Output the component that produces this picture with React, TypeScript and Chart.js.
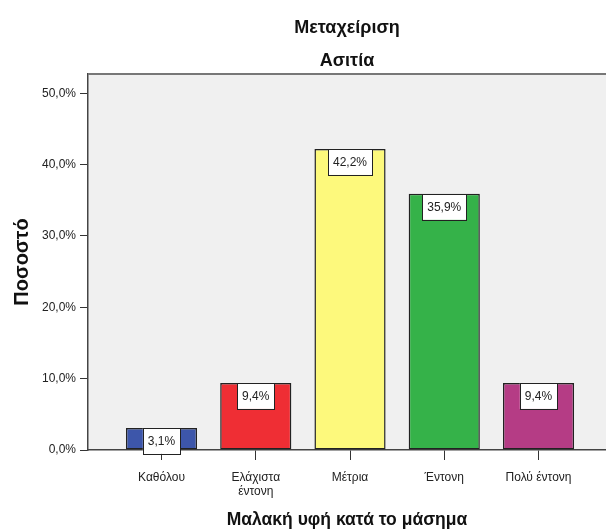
import React, { useEffect, useRef } from "react";
import { Chart, registerables } from "chart.js";

Chart.register(...registerables);

const titleLines = ["Μεταχείριση", "Ασιτία"];
const xTitle = "Μαλακή υφή κατά το μάσημα";
const yTitle = "Ποσοστό";
const categories: (string | string[])[] = ["Καθόλου", ["Ελάχιστα", "έντονη"], "Μέτρια", "Έντονη", "Πολύ έντονη"];
const values = [3.1, 9.4, 42.2, 35.9, 9.4];
const barColors = ["#3d56aa", "#ef2e34", "#fdf97c", "#35b249", "#b53c85"];
const yTicks = [0, 10, 20, 30, 40, 50];

const fmt = (v: number) => v.toFixed(1).replace(".", ",") + "%";
const FONT = "'Liberation Sans', Arial, sans-serif";

export default function App() {
  const ref = useRef<HTMLCanvasElement>(null);
  useEffect(() => {
    document.body.style.margin = "0";
    const canvas = ref.current!;
    const decor = {
      id: "decor",
      beforeDraw(chart: any) {
        const { ctx, chartArea: a } = chart;
        ctx.save();
        ctx.fillStyle = "#f0f0f0";
        ctx.fillRect(a.left, a.top, a.right - a.left, a.bottom - a.top);
        ctx.restore();
      },
      afterDraw(chart: any) {
        const { ctx, chartArea: a } = chart;
        ctx.save();
        ctx.strokeStyle = "#777";
        ctx.lineWidth = 2;
        ctx.beginPath();
        ctx.moveTo(a.left, a.top);
        ctx.lineTo(a.right, a.top);
        ctx.stroke();
        ctx.fillStyle = "#111";
        ctx.textAlign = "center";
        ctx.textBaseline = "alphabetic";
        ctx.font = `bold 18px ${FONT}`;
        const cx = (a.left + a.right) / 2;
        ctx.fillText(titleLines[0], cx, 33);
        ctx.fillText(titleLines[1], cx, 66);
        ctx.font = `bold 17.5px ${FONT}`;
        ctx.fillText(xTitle, cx, 525);
        ctx.font = `bold 20px ${FONT}`;
        ctx.translate(28, (a.top + a.bottom) / 2);
        ctx.rotate(-Math.PI / 2);
        ctx.fillText(yTitle, 0, 0);
        ctx.restore();
      },
      afterDatasetsDraw(chart: any) {
        const { ctx } = chart;
        const meta = chart.getDatasetMeta(0);
        ctx.save();
        ctx.font = `12px ${FONT}`;
        meta.data.forEach((bar: any, i: number) => {
          const txt = fmt(values[i]);
          const w = ctx.measureText(txt).width + 10;
          const h = 26;
          const x = bar.x - w / 2;
          const y = bar.y;
          ctx.fillStyle = "#fff";
          ctx.fillRect(x, y, w, h);
          ctx.strokeStyle = "#222";
          ctx.lineWidth = 1;
          ctx.strokeRect(Math.round(x) + 0.5, Math.round(y) + 0.5, Math.round(w), h);
          ctx.fillStyle = "#222";
          ctx.textAlign = "center";
          ctx.textBaseline = "middle";
          ctx.fillText(txt, bar.x, y + h / 2 + 1);
        });
        ctx.restore();
      },
    };
    const chart = new Chart(canvas, {
      type: "bar",
      data: {
        datasets: [
          {
            data: values.map((v, i) => ({ x: i, y: v })),
            backgroundColor: barColors,
            borderColor: "#222",
            borderWidth: 1.5,
            borderSkipped: false,
            categoryPercentage: 1,
            barPercentage: 0.755,
          },
        ],
      },
      options: {
        responsive: false,
        animation: false,
        layout: { padding: { top: 74, right: 0, left: 0, bottom: 0 } },
        plugins: { legend: { display: false }, tooltip: { enabled: false }, title: { display: false } },
        scales: {
          x: {
            type: "linear",
            offset: false,
            min: -0.78,
            max: 4.716,
            afterBuildTicks: (s: any) => {
              s.ticks = categories.map((_, i) => ({ value: i }));
            },
            afterFit: (s: any) => {
              s.height = 80;
            },
            grid: { offset: false, drawOnChartArea: false, tickLength: 10, tickColor: "#333", tickWidth: 1 },
            border: { color: "#444", width: 1.5 },
            ticks: {
              autoSkip: false,
              maxRotation: 0,
              padding: 10,
              color: "#222",
              font: { family: FONT, size: 12 },
              callback: (v: any) => categories[v as number],
            },
          },
          y: {
            min: 0,
            max: 52.7,
            afterBuildTicks: (s: any) => {
              s.ticks = yTicks.map((v) => ({ value: v }));
            },
            afterFit: (s: any) => {
              s.width = 88;
            },
            grid: { drawOnChartArea: false, tickLength: 8, tickColor: "#333", tickWidth: 1 },
            border: { color: "#444", width: 1.5 },
            ticks: {
              padding: 4,
              color: "#222",
              font: { family: FONT, size: 12 },
              callback: (v: any) => fmt(Number(v)),
            },
          },
        },
      },
      plugins: [decor],
    } as any);
    return () => chart.destroy();
  }, []);
  return <canvas ref={ref} width={606} height={530} style={{ display: "block" }} />;
}
